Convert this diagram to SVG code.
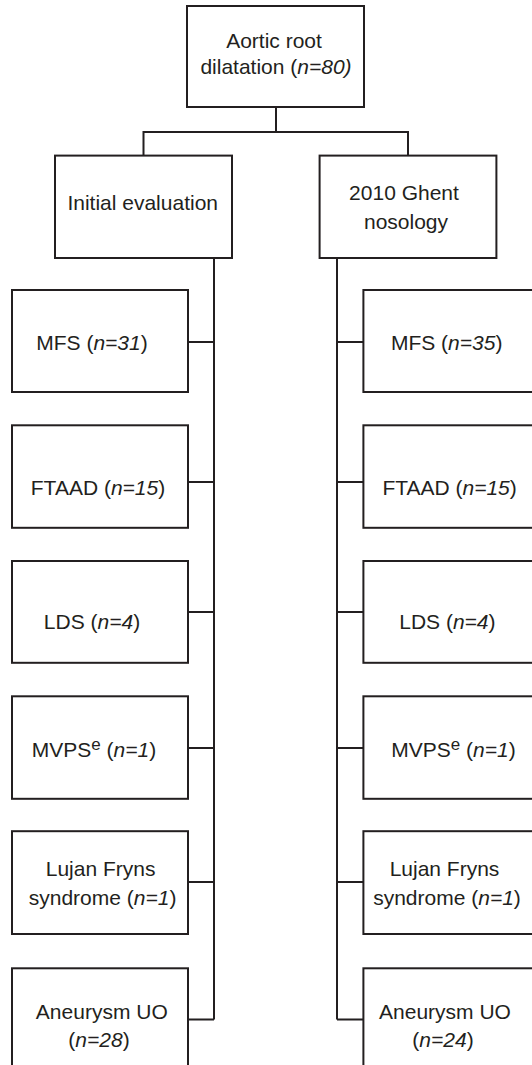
<svg xmlns="http://www.w3.org/2000/svg" width="532" height="1065" viewBox="0 0 532 1065">
<style>
.box{fill:#fff;stroke:#231f20;stroke-width:2}
.ln{fill:none;stroke:#231f20;stroke-width:2}
.t{font-family:"Liberation Sans",Arial,sans-serif;font-size:21px;fill:#231f20;text-anchor:middle}
.i{font-style:italic}
.sup{font-size:17px}
</style>
<rect width="532" height="1065" fill="#fff"/>
<g id="connectors">
<path class="ln" d="M276 107V132M143.5 155.6V132H408V155.6"/>
<path class="ln" d="M214 258V1019.5M188 342H214M188 482H214M188 612H214M188 748H214M188 882H214M188 1019.5H214"/>
<path class="ln" d="M337 258V1019.5M337 342H363M337 482H363M337 612H363M337 748H363M337 882H363M337 1019.5H363"/>
</g>
<g id="root"><rect class="box" x="187" y="6" width="177" height="101"/>
<text class="t" x="274" y="47.7">Aortic root</text>
<text class="t" x="276" y="74">dilatation (<tspan class="i">n=80)</tspan></text></g>
<g id="initial"><rect class="box" x="55" y="155.6" width="177" height="102.4"/>
<text class="t" x="142.7" y="209.9">Initial evaluation</text></g>
<g id="ghent"><rect class="box" x="319.6" y="155.6" width="176.8" height="102.4"/>
<text class="t" x="404" y="200.4">2010 Ghent</text>
<text class="t" x="406" y="228.6">nosology</text></g>
<g id="l-mfs"><rect class="box" x="12" y="290" width="176" height="102"/>
<text class="t" x="92" y="349.6">MFS (<tspan class="i">n=31</tspan>)</text></g>
<g id="l-ftaad"><rect class="box" x="12" y="425.3" width="176" height="102.5"/>
<text class="t" x="98" y="494.8">FTAAD (<tspan class="i">n=15</tspan>)</text></g>
<g id="l-lds"><rect class="box" x="12" y="561" width="176" height="101.8"/>
<text class="t" x="92" y="629">LDS (<tspan class="i">n=4</tspan>)</text></g>
<g id="l-mvps"><rect class="box" x="12" y="696.3" width="176" height="102.5"/>
<text class="t" x="94" y="756.7">MVPS<tspan class="sup" dy="-7">e</tspan><tspan dy="7"> (</tspan><tspan class="i">n=1</tspan>)</text></g>
<g id="l-lujan"><rect class="box" x="12" y="831.2" width="176" height="102.8"/>
<text class="t" x="100.6" y="876">Lujan Fryns</text>
<text class="t" x="102.6" y="904.8">syndrome (<tspan class="i">n=1</tspan>)</text></g>
<g id="l-aneurysm"><rect class="box" x="12" y="968.3" width="176" height="102"/>
<text class="t" x="101.8" y="1018.5">Aneurysm UO</text>
<text class="t" x="99" y="1047.3">(<tspan class="i">n=28</tspan>)</text></g>
<g id="r-mfs"><rect class="box" x="363.4" y="290" width="180" height="102"/>
<text class="t" x="446.7" y="349.6">MFS (<tspan class="i">n=35</tspan>)</text></g>
<g id="r-ftaad"><rect class="box" x="363.4" y="425.3" width="180" height="102.5"/>
<text class="t" x="449.6" y="494.8">FTAAD (<tspan class="i">n=15</tspan>)</text></g>
<g id="r-lds"><rect class="box" x="363.4" y="561" width="180" height="101.8"/>
<text class="t" x="447.4" y="629">LDS (<tspan class="i">n=4</tspan>)</text></g>
<g id="r-mvps"><rect class="box" x="363.4" y="696.3" width="180" height="102.5"/>
<text class="t" x="453.5" y="756.7">MVPS<tspan class="sup" dy="-7">e</tspan><tspan dy="7"> (</tspan><tspan class="i">n=1</tspan>)</text></g>
<g id="r-lujan"><rect class="box" x="363.4" y="831.2" width="180" height="102.8"/>
<text class="t" x="444.5" y="876">Lujan Fryns</text>
<text class="t" x="447" y="904.8">syndrome (<tspan class="i">n=1</tspan>)</text></g>
<g id="r-aneurysm"><rect class="box" x="363.4" y="968.3" width="180" height="102"/>
<text class="t" x="445" y="1018.5">Aneurysm UO</text>
<text class="t" x="443" y="1047.3">(<tspan class="i">n=24</tspan>)</text></g>
</svg>
